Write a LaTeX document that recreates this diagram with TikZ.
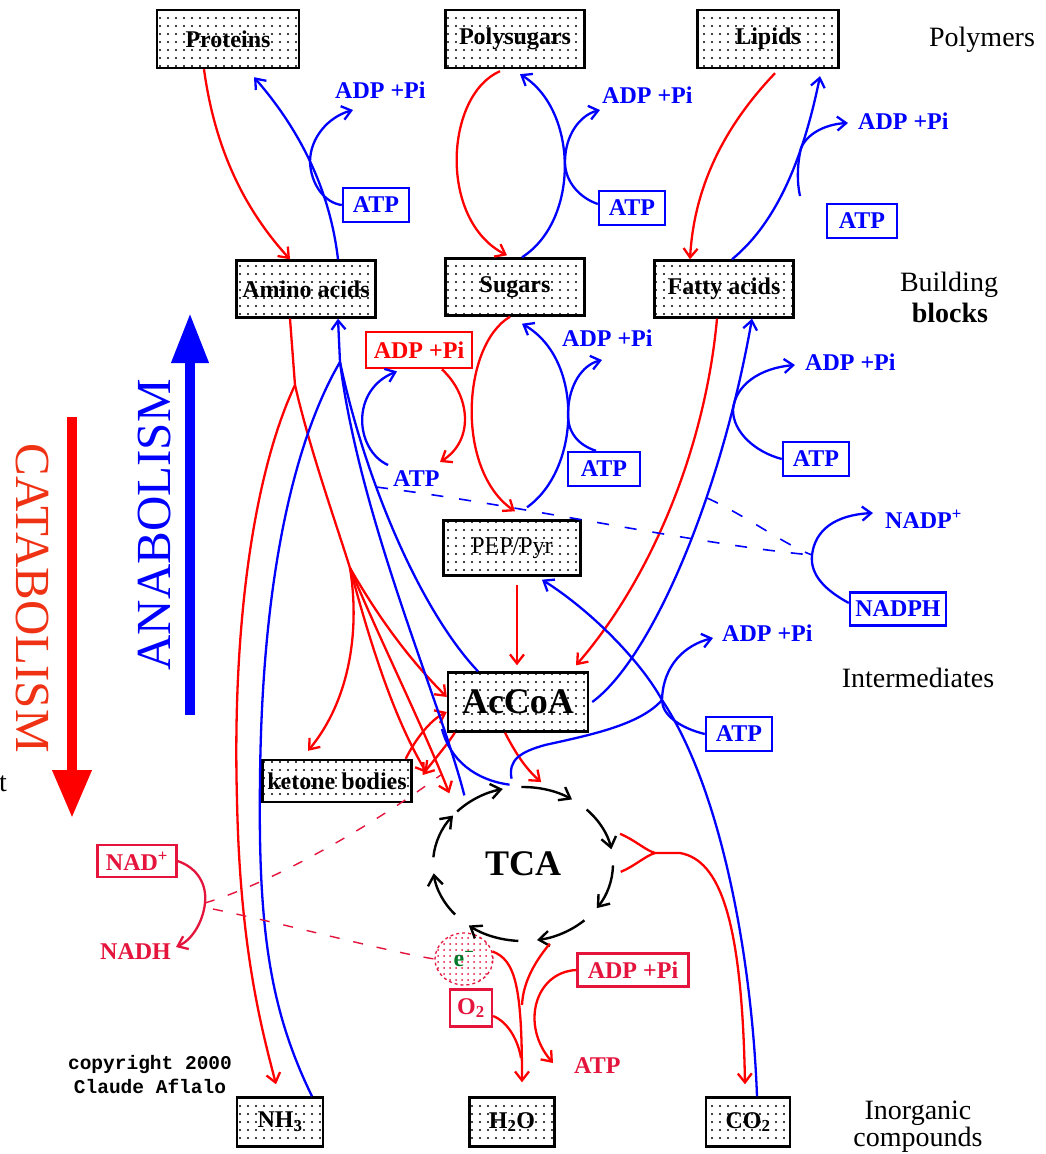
\documentclass[tikz,border=0pt]{standalone}
\usepackage{fontspec}
\setmainfont{Liberation Serif}
\newfontfamily\cpfont{Liberation Mono}
\usetikzlibrary{arrows.meta,patterns.meta,shapes.geometric}
\definecolor{mred}{RGB}{255,0,0}
\definecolor{mblue}{RGB}{0,0,255}
\definecolor{bred}{RGB}{228,20,60}
\definecolor{cat}{RGB}{240,50,20}
\definecolor{egreen}{RGB}{0,120,40}
\begin{document}
\begin{tikzpicture}[x=1pt,y=-1pt,
  bx/.style={draw=black,line width=2.4pt,pattern={Dots[distance=8pt,radius=1.1pt]},inner sep=0pt,font=\bfseries\fontsize{24}{26}\selectfont},
  lab/.style={font=\bfseries\fontsize{24}{26}\selectfont,inner sep=0pt,anchor=west},
  bluebox/.style={draw=mblue,line width=2.4pt,text=mblue,minimum width=66pt,minimum height=34pt,inner sep=0pt,font=\bfseries\fontsize{24}{26}\selectfont},
  redbox/.style={draw=bred,line width=2.2pt,text=bred,inner sep=0pt,font=\bfseries\fontsize{24}{26}\selectfont},
  side/.style={font=\fontsize{28}{30}\selectfont,inner sep=0pt},
  arr/.style={-{Straight Barb[length=9pt,width=14pt]}},
  rl/.style={draw=mred,line width=2.3pt},
  bl/.style={draw=mblue,line width=2.3pt},
  rdash/.style={draw=bred,line width=1.4pt,dash pattern=on 10pt off 14pt},
  bdash/.style={draw=mblue,line width=1.6pt,dash pattern=on 12pt off 16pt}
]
\fill[white] (0,0) rectangle (1045,1154);
\path[use as bounding box] (0,0) rectangle (1045,1154);

% ---------- boxes ----------
\node[bx,minimum width=142pt,minimum height=58pt] (prot) at (228,39) {Proteins};
\node[bx,minimum width=139pt,minimum height=58pt] (poly) at (515,39) {Polysugars};
\node[bx,minimum width=141pt,minimum height=58pt] (lip) at (768,39) {Lipids};
\node[bx,minimum width=139pt,minimum height=57pt] (amino) at (306,289) {Amino acids};
\node[bx,minimum width=139pt,minimum height=57pt] (sug) at (515,287) {Sugars};
\node[bx,minimum width=139pt,minimum height=57pt] (fatty) at (724,289) {Fatty acids};
\node[bx,minimum width=137pt,minimum height=55pt,font=\fontsize{24}{26}\selectfont] (pep) at (512,548) {PEP/Pyr};
\node[bx,minimum width=140pt,minimum height=59pt,font=\bfseries\fontsize{36}{38}\selectfont] (accoa) at (518,702) {AcCoA};
\node[bx,minimum width=149pt,minimum height=42pt] (keto) at (337,781) {ketone bodies};
\node[bx,minimum width=86pt,minimum height=49pt] (nh3) at (280,1122) {NH\textsubscript{3}};
\node[bx,minimum width=85pt,minimum height=49pt] (h2o) at (512,1122) {H\textsubscript{2}O};
\node[bx,minimum width=84pt,minimum height=49pt] (co2) at (748,1122) {CO\textsubscript{2}};
\node[ellipse,minimum width=180pt,minimum height=154pt,inner sep=0pt,font=\bfseries\fontsize{36}{38}\selectfont] (tcac) at (523,864) {TCA};

% ---------- side labels ----------
\node[side] (lpoly) at (982,40) {Polymers};
\node[side] (lbuild) at (949,285) {Building};
\node[side,font=\bfseries\fontsize{28}{30}\selectfont] (lblocks) at (950,313) {blocks};
\node[side] (linter) at (918,678) {Intermediates};
\node[side] (linorg) at (918,1113) {Inorganic};
\node[side] (lcomp) at (918,1140) {compounds};
\node[side] (tt) at (3,784) {t};
\node[font=\cpfont\bfseries\fontsize{19.5}{24}\selectfont,align=center,inner sep=0pt] (copy) at (150,1075) {copyright 2000\\Claude Aflalo};

\node[rotate=-90,font=\fontsize{49}{50}\selectfont,text=cat,inner sep=0pt] (catab) at (32,598) {CATABOLISM};
\node[rotate=90,font=\fontsize{49}{50}\selectfont,text=mblue,inner sep=0pt] (anab) at (155,525) {ANABOLISM};
\coordinate (cattop) at (72,417); \coordinate (catbot) at (72,818);
\coordinate (anabot) at (190,715); \coordinate (anatop) at (190,313);
\draw[mred,line width=10pt,-{Triangle[length=48pt,width=37pt]}] (cattop) -- (catbot);
\draw[mblue,line width=10pt,-{Triangle[length=50pt,width=35pt]}] (anabot) -- (anatop);

% ---------- blue labels ----------
\node[lab,text=mblue] (adp1) at (335,90) {ADP +Pi};
\node[lab,text=mblue] (adp2) at (602,95) {ADP +Pi};
\node[lab,text=mblue] (adp3) at (858,121) {ADP +Pi};
\node[lab,text=mblue] (adp4) at (562,338) {ADP +Pi};
\node[lab,text=mblue] (adp5) at (805,362) {ADP +Pi};
\node[lab,text=mblue] (adp6) at (722,633) {ADP +Pi};
\node[lab,text=mblue] (nadp) at (885,519) {NADP\textsuperscript{+}};
\node[lab,text=mblue] (atpt) at (393,479) {ATP};
\node[bluebox] (atp1) at (376,205) {ATP};
\node[bluebox] (atp2) at (632,208) {ATP};
\node[bluebox,minimum width=70pt] (atp3) at (862,221) {ATP};
\node[bluebox,minimum width=72pt] (atp4) at (604,469) {ATP};
\node[bluebox] (atp5) at (816,459) {ATP};
\node[bluebox] (atp6) at (739,734) {ATP};
\node[bluebox,minimum width=96pt,minimum height=33pt] (nadph) at (898,609) {NADPH};

% ---------- red labels ----------
\node[redbox,draw=mred,text=mred,line width=2.8pt,minimum width=106pt,minimum height=36pt] (adpr) at (419,350) {ADP +Pi};
\node[redbox,minimum width=79pt,minimum height=32pt] (nad) at (137,861) {NAD\textsuperscript{+}};
\node[lab,text=bred] (nadh) at (100,952) {NADH};
\node[redbox,minimum width=111pt,minimum height=33pt] (adpb) at (633,970) {ADP +Pi};
\node[redbox,minimum width=42pt,minimum height=37pt] (o2) at (471,1008) {O\textsubscript{2}};
\node[lab,text=bred] (atpb) at (574,1066) {ATP};
\node[ellipse,draw=bred,dashed,line width=1.3pt,pattern={Dots[distance=6pt,radius=1pt]},pattern color=bred,minimum width=58pt,minimum height=52pt,inner sep=0pt,font=\bfseries\fontsize{24}{26}\selectfont,text=egreen] (elec) at (464,959) {e\textsuperscript{−}};

% ---------- junctions ----------
\coordinate (ja1) at (310,162);
\coordinate (js1) at (565,162);
\coordinate (atpstub) at (800,196);
\coordinate (js2) at (568,412);
\coordinate (jm) at (733,410);
\coordinate (jr) at (295,385);
\coordinate (jf) at (350,568);
\coordinate (jb) at (340,362);
\coordinate (jq) at (662,700);
\coordinate (jn) at (812,555);
\coordinate (jd) at (205,903);
\coordinate (jt) at (655,853);
\coordinate (jw) at (522,1005);
\coordinate (jo) at (521,1058);

% ---------- top: polymers <-> building blocks ----------
\draw[rl,arr] ([xshift=-24pt]prot.south) .. controls (215,150) and (245,210) .. ([xshift=-16pt]amino.north);
\draw[bl,arr] ([xshift=32pt]amino.north) .. controls (330,190) and (300,130) .. ([xshift=26pt,yshift=-8pt]prot.south);
\draw[bl,arr] (atp1.west) .. controls (325,203) and (311,185) .. (ja1) .. controls (310,138) and (328,117) .. ([xshift=18pt,yshift=-20pt]adp1.west);

\draw[rl,arr] ([xshift=-15pt,yshift=-2pt]poly.south) .. controls (445,95) and (438,220) .. ([xshift=-8pt,yshift=2pt]sug.north);
\draw[bl,arr] ([xshift=7pt]sug.north) .. controls (580,220) and (578,110) .. ([xshift=5pt,yshift=-5pt]poly.south);
\draw[bl,arr] ([yshift=4pt]atp2.west) .. controls (580,198) and (565,182) .. (js1) .. controls (565,135) and (580,115) .. ([xshift=-2pt,yshift=-15pt]adp2.west);

\draw[rl,arr] ([xshift=7pt,yshift=-4pt]lip.south) .. controls (740,110) and (695,170) .. ([xshift=-34pt]fatty.north);
\draw[bl,arr] ([xshift=8pt]fatty.north) .. controls (780,220) and (805,150) .. ([xshift=52pt,yshift=-7pt]lip.south);
\draw[bl,arr] (atpstub) .. controls (797,183) and (797,165) .. (801,148) .. controls (808,132) and (828,124) .. ([xshift=-10pt,yshift=-2pt]adp3.west);

% ---------- sugars / PEP ----------
\draw[rl,arr] ([xshift=-5pt]sug.south) .. controls (462,345) and (455,470) .. ([xshift=3pt,yshift=8pt]pep.north);
\draw[bl,arr] ([xshift=15pt,yshift=12pt]pep.north) .. controls (580,470) and (585,360) .. ([xshift=7pt,yshift=-7pt]sug.south);
\draw[bl,arr] ([xshift=-8pt]atp4.north) .. controls (578,445) and (567,432) .. (js2) .. controls (569,385) and (582,365) .. ([xshift=40pt,yshift=-22pt]adp4.west);
\draw[rl,arr] ([xshift=23pt]adpr.south) .. controls (470,395) and (475,440) .. ([xshift=47pt,yshift=17pt]atpt.west);
\draw[bl,arr] ([xshift=-5pt,yshift=14pt]atpt.west) .. controls (355,450) and (350,390) .. ([xshift=-22pt,yshift=-2pt]adpr.south);
\draw[rl,arr] ([xshift=5pt,yshift=-8pt]pep.south) -- ([xshift=-1pt,yshift=6pt]accoa.north);

% ---------- fatty acids / AcCoA ----------
\draw[rl,arr] ([xshift=-7pt]fatty.south) .. controls (705,450) and (650,580) .. ([xshift=58pt,yshift=6pt]accoa.north);
\draw[bl,arr] ([xshift=3pt]accoa.east) .. controls (650,660) and (720,500) .. ([xshift=28pt]fatty.south);
\draw[bl,arr] (atp5.west) .. controls (755,452) and (733,432) .. (jm) .. controls (735,385) and (760,368) .. ([xshift=-10pt,yshift=-3pt]adp5.west);

% ---------- NADPH ----------
\draw[bl,arr] ([yshift=6pt]nadph.west) .. controls (825,590) and (810,575) .. (jn) .. controls (815,530) and (835,515) .. ([xshift=-12pt,yshift=6pt]nadp.west);
\draw[bdash] (376,487) .. controls (520,505) and (700,545) .. (jn);
\draw[bdash] (707,498) .. controls (745,515) and (785,545) .. (jn);

% ---------- amino acids catabolism (red) ----------
\draw[rl] ([xshift=-16pt]amino.south) -- (jr);
\draw[rl] (jr) .. controls (310,450) and (335,520) .. (jf);
\draw[rl,arr] (jf) .. controls (360,630) and (350,700) .. ([xshift=-29pt,yshift=8pt]keto.north);
\draw[rl,arr] (jf) .. controls (380,620) and (410,660) .. ([yshift=5pt]accoa.west);
\draw[rl,arr] (jf) .. controls (380,640) and (420,720) .. ([xshift=-15pt,yshift=12pt]tcac.135);
\draw[rl,arr] (jf) .. controls (372,650) and (395,720) .. ([xshift=14pt,yshift=8pt]keto.east);
\draw[rl,arr] ([xshift=-7pt]keto.north east) .. controls (415,740) and (430,720) .. ([yshift=-10pt]accoa.west);
\draw[rl,arr] ([xshift=8pt]accoa.south west) .. controls (445,748) and (432,762) .. ([xshift=10pt,yshift=6pt]keto.east);
\draw[rl,arr] ([xshift=-13pt]accoa.south) .. controls (515,752) and (525,768) .. ([xshift=2pt,yshift=6pt]tcac.78);
\draw[rl,arr] (jr) .. controls (255,470) and (232,620) .. (237,800) .. controls (240,950) and (262,1030) .. ([xshift=-4pt,yshift=12pt]nh3.north);

% ---------- amino acids anabolism (blue) ----------
\draw[bl,arr] (jb) -- ([xshift=32pt]amino.south);
\draw[bl] ([xshift=32pt]nh3.north) .. controls (270,1010) and (258,930) .. (260,780) .. controls (262,560) and (300,430) .. (jb);
\draw[bl] ([xshift=-40pt]accoa.north) .. controls (420,610) and (365,480) .. (jb);
\draw[bl] ([yshift=10pt]tcac.135) .. controls (440,700) and (360,520) .. (jb);
\draw[bl] ([yshift=3pt]tcac.100) .. controls (475,780) and (450,760) .. (442,729);

% ---------- CO2 fixation (blue) ----------
\draw[bl,arr] ([xshift=9pt]co2.north) .. controls (752,960) and (722,790) .. (jq) .. controls (640,660) and (590,610) .. ([xshift=30pt,yshift=-3pt]pep.south);
\draw[bl,arr] (atp6.west) .. controls (680,728) and (662,715) .. (jq) .. controls (663,665) and (685,645) .. ([xshift=-9pt,yshift=-5pt]adp6.west);
\draw[bl] ([xshift=2pt,yshift=9pt]tcac.100) .. controls (508,760) and (520,752) .. (545,745) .. controls (590,735) and (640,725) .. (jq);

% ---------- TCA cycle ----------
\foreach \e in {-103,-57,-11,35,81,127,173,219}{
  \draw[black,line width=2.4pt,-{Straight Barb[length=10pt,width=15pt]},shift={(523,864)}] ({\e-34}:90 and 77) arc[start angle=\e-34,end angle=\e,x radius=90,y radius=77];
}

% ---------- TCA -> CO2 ----------
\draw[rl] ([xshift=14pt]tcac.20) .. controls (635,840) and (645,850) .. (jt);
\draw[rl] ([xshift=8pt]tcac.-5) .. controls (635,866) and (645,856) .. (jt);
\draw[rl,arr] (jt) -- (680,853) .. controls (720,860) and (742,920) .. ([xshift=-3pt,yshift=12pt]co2.north);

% ---------- respiration ----------
\draw[bred,line width=2.3pt] (nad.east) .. controls (198,868) and (207,885) .. (jd);
\draw[bred,line width=2.3pt,arr] (jd) .. controls (203,922) and (192,940) .. ([xshift=76pt,yshift=5pt]nadh.west);
\draw[rdash] (jd) .. controls (280,880) and (380,820) .. ([xshift=28pt,yshift=6pt]keto.east);
\draw[rdash] ([xshift=8pt,yshift=-6pt]jd) .. controls (290,925) and (380,950) .. (elec.west);
\draw[rl,arr] (elec.15) .. controls (515,960) and (522,985) .. ([xshift=10pt,yshift=14pt]h2o.north);
\draw[rl] ([yshift=-6pt]tcac.-70) .. controls (532,965) and (523,985) .. (jw);
\draw[rl] ([yshift=-8pt]o2.east) .. controls (508,1022) and (518,1040) .. (jo);
\draw[rl,arr] (adpb.west) .. controls (535,972) and (520,1025) .. ([xshift=-21pt,yshift=3pt]atpb.west);
\end{tikzpicture}
\end{document}
